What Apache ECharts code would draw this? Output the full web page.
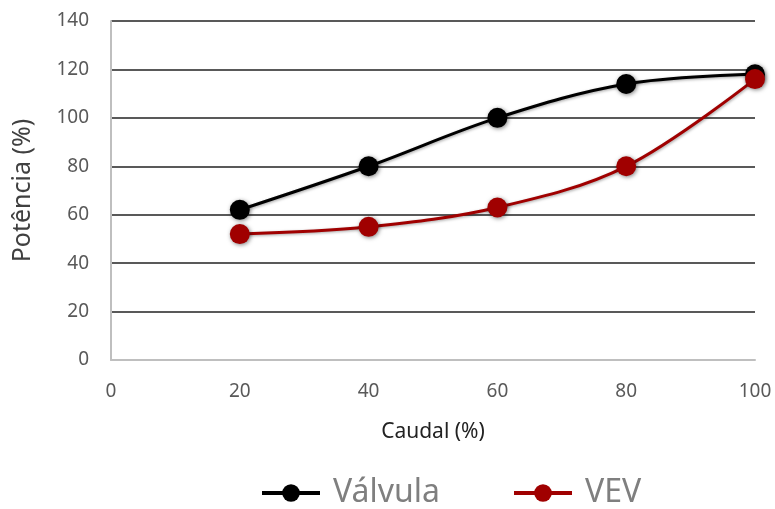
<!DOCTYPE html>
<html>
<head>
<meta charset="utf-8">
<script src="https://cdn.jsdelivr.net/npm/echarts@6/dist/echarts.min.js"></script>
<style>
  html, body { margin: 0; padding: 0; background: #fff; }
  #chart { width: 775px; height: 509px; }
</style>
</head>
<body>
<div id="chart"></div>
<script>
// Flow rate (%) on the x axis, power (%) on the y axis
const caudal = [20, 40, 60, 80, 100];
const valvula = [62, 80, 100, 114, 118];
const vev = [52, 55, 63, 80, 116];
const seriesNames = ['Válvula', 'VEV'];
const seriesColors = ['#000000', '#A00000'];

const font = 'Noto Sans';
const pairs = (ys) => caudal.map((x, i) => [x, ys[i]]);

function lineSeries(name, ys, color) {
  return {
    name: name,
    type: 'line',
    data: pairs(ys),
    smooth: 0.35,
    symbol: 'circle',
    symbolSize: 20,
    lineStyle: { color: color, width: 3, shadowBlur: 3, shadowColor: 'rgba(0,0,0,0.35)', shadowOffsetX: 1, shadowOffsetY: 1 },
    itemStyle: { color: color, shadowBlur: 4, shadowColor: 'rgba(0,0,0,0.5)', shadowOffsetX: 1, shadowOffsetY: 1 },
    emphasis: { disabled: true },
    z: 3
  };
}

const chart = echarts.init(document.getElementById('chart'), null, { renderer: 'canvas' });
chart.setOption({
  animation: false,
  backgroundColor: '#ffffff',
  grid: { left: 111, right: 20, top: 21, bottom: 149, containLabel: false, outerBoundsMode: 'none' },
  xAxis: {
    type: 'value',
    min: 0, max: 100, interval: 20,
    name: 'Caudal (%)',
    nameLocation: 'middle',
    nameGap: 62,
    nameTextStyle: { fontFamily: font, fontSize: 21, color: '#222' },
    axisLine: { show: true, lineStyle: { color: '#BFBFBF', width: 2 } },
    axisTick: { show: false },
    splitLine: { show: false },
    axisLabel: { fontFamily: font, fontSize: 19, color: '#595959', margin: 22 }
  },
  yAxis: {
    type: 'value',
    min: 0, max: 140, interval: 20,
    name: 'Potência (%)',
    nameLocation: 'middle',
    nameGap: 76,
    nameTextStyle: { fontFamily: font, fontSize: 25, color: '#404040' },
    axisLine: { show: true, lineStyle: { color: '#BFBFBF', width: 2 } },
    axisTick: { show: false },
    splitLine: { show: true, lineStyle: { color: '#595959', width: 2 } },
    axisLabel: { fontFamily: font, fontSize: 19, color: '#595959', margin: 22 }
  },
  legend: {
    data: seriesNames,
    bottom: -5,
    left: 255,
    itemWidth: 58,
    itemHeight: 22,
    itemGap: 72,
    lineStyle: { width: 4 },
    textStyle: { fontFamily: font, fontSize: 32, color: '#7F7F7F', padding: [0, 0, 0, 8] }
  },
  series: [
    lineSeries(seriesNames[0], valvula, seriesColors[0]),
    lineSeries(seriesNames[1], vev, seriesColors[1])
  ]
});
</script>
</body>
</html>
